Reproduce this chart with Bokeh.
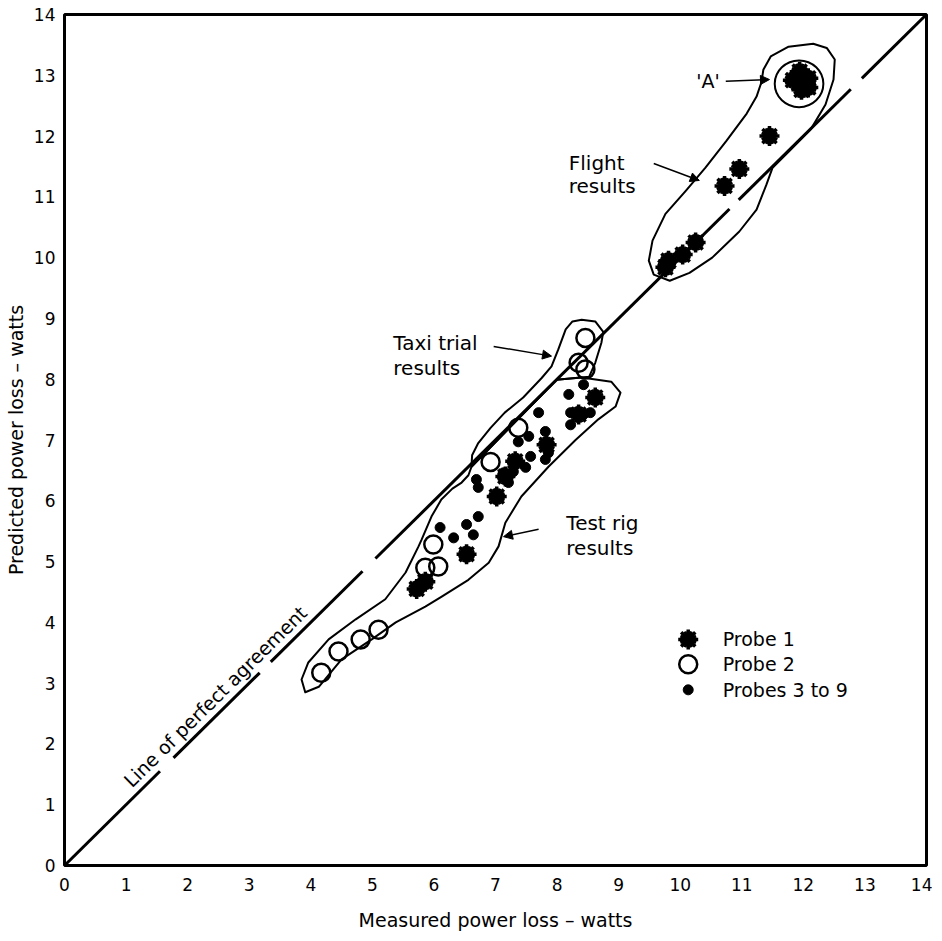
import math
from bokeh.plotting import figure
from bokeh.models import Range1d, FixedTicker, Arrow, NormalHead
from bokeh.core.properties import value
from bokeh.embed import file_html
from bokeh.resources import INLINE

# ---------------- data ----------------
axis_ticks = list(range(0, 15))

# Probe 1 (asterisks)
probe1_measured = [11.94, 11.83, 12.08, 11.97, 12.08,
                   11.45, 10.96, 10.72, 10.25, 10.04, 9.81, 9.76,
                   8.62, 8.35, 7.83, 7.32, 7.16, 7.02, 6.53, 5.86, 5.72]
probe1_predicted = [13.06, 12.92, 12.95, 12.76, 12.80,
                    12.00, 11.46, 11.18, 10.25, 10.05, 9.95, 9.84,
                    7.70, 7.42, 6.92, 6.65, 6.40, 6.07, 5.12, 4.67, 4.55]

# Probe 2 (open circles)
probe2_measured = [8.46, 8.35, 8.46, 7.37, 6.92, 5.99, 5.86, 6.07, 5.10, 4.81, 4.45, 4.17]
probe2_predicted = [8.68, 8.27, 8.16, 7.20, 6.64, 5.28, 4.90, 4.92, 3.88, 3.72, 3.52, 3.17]

# Probes 3 to 9 (dots)
probe39_measured = [8.19, 8.43, 8.22, 8.22, 8.43, 8.54, 7.70, 7.81, 7.54, 7.37, 7.86, 7.81,
                    7.57, 7.29, 7.13, 7.49, 6.69, 6.72, 7.21, 6.72, 6.53, 6.64, 6.32, 6.10]
probe39_predicted = [7.75, 7.91, 7.45, 7.25, 7.42, 7.45, 7.45, 7.14, 7.06, 6.97, 6.79, 6.68,
                     6.73, 6.48, 6.46, 6.55, 6.35, 6.22, 6.30, 5.74, 5.61, 5.44, 5.39, 5.56]

# Line of perfect agreement (drawn broken)
agreement_from = [0.0, 1.77, 3.35, 5.05, 10.95, 12.95]
agreement_to = [1.55, 3.17, 4.84, 10.80, 12.77, 14.0]

# Hand-drawn result envelopes (data units)
flight_env_x = [12.16, 11.76, 11.47, 11.35, 11.32, 11.24, 11.08, 10.75, 10.41, 10.09, 9.76, 9.55,
                9.49, 9.57, 9.83, 10.15, 10.52, 10.96, 11.24, 11.40, 11.50, 11.76, 12.12, 12.36,
                12.49, 12.51, 12.38]
flight_env_y = [13.52, 13.47, 13.31, 13.09, 12.89, 12.65, 12.37, 11.92, 11.48, 11.10, 10.72, 10.28,
                9.95, 9.72, 9.62, 9.75, 10.00, 10.43, 10.79, 11.20, 11.48, 11.74, 12.11, 12.52,
                12.93, 13.26, 13.45]
group_a_x, group_a_y, group_a_w, group_a_h = [11.93], [12.86], [0.79], [0.77]

taxi_env_x = [8.40, 8.62, 8.75, 8.72, 8.62, 8.52, 7.99, 6.61, 6.62, 6.72, 6.92, 7.15, 7.45,
              7.75, 7.91, 8.02, 8.14, 8.25]
taxi_env_y = [8.98, 8.95, 8.78, 8.60, 8.27, 8.04, 7.99, 6.56, 6.75, 6.95, 7.20, 7.45, 7.70,
              8.02, 8.21, 8.49, 8.82, 8.95]

rig_env_x = [7.99, 8.40, 8.88, 9.03, 8.95, 8.67, 8.30, 7.86, 7.42, 7.16, 7.05, 6.89, 6.56, 6.12,
             5.86, 5.38, 4.99, 4.50, 4.13, 3.91, 3.85, 3.96, 4.29, 4.73, 5.21, 5.54, 5.75, 5.80,
             5.96, 6.12, 6.30, 6.45, 6.56, 6.61]
rig_env_y = [7.99, 8.03, 7.96, 7.78, 7.55, 7.34, 7.00, 6.56, 6.07, 5.64, 5.25, 4.98, 4.70, 4.42,
             4.26, 4.00, 3.72, 3.39, 2.94, 2.85, 3.06, 3.34, 3.72, 4.05, 4.38, 4.82, 5.25, 5.36,
             5.74, 6.02, 6.20, 6.30, 6.42, 6.56]

# ---------------- figure ----------------
FW, FH = 862, 851
BL, BR, BT, BB = 64, 6, 14, 70
FONT = "DejaVu Sans"

p = figure(width=BL + FW + BR, height=BT + FH + BB,
           x_range=Range1d(0, 14), y_range=Range1d(0, 14),
           output_backend="svg", toolbar_location=None,
           min_border_left=BL, min_border_right=BR, min_border_top=BT, min_border_bottom=BB,
           background_fill_color="white", border_fill_color="white")

p.grid.visible = False
p.outline_line_color = "black"
p.outline_line_width = 3

for ax in (p.xaxis[0], p.yaxis[0]):
    ax.ticker = FixedTicker(ticks=axis_ticks)
    ax.axis_line_color = None
    ax.major_tick_line_color = None
    ax.minor_tick_line_color = None
    ax.major_tick_out = 0
    ax.major_tick_in = 0
    ax.major_label_text_font = FONT
    ax.major_label_text_font_size = "17px"
    ax.major_label_text_color = "black"
    ax.axis_label_text_font = FONT
    ax.axis_label_text_font_size = "19px"
    ax.axis_label_text_font_style = "normal"
    ax.axis_label_text_color = "black"

p.xaxis.axis_label = "Measured power loss \u2013 watts"
p.yaxis.axis_label = "Predicted power loss \u2013 watts"
p.xaxis.major_label_standoff = 12
p.xaxis.axis_label_standoff = 15
p.yaxis.major_label_standoff = 9
p.yaxis.axis_label_standoff = 4

# line of perfect agreement
p.multi_line(xs=[[a, b] for a, b in zip(agreement_from, agreement_to)],
             ys=[[a, b] for a, b in zip(agreement_from, agreement_to)],
             line_color="black", line_width=3)

# envelopes
for ex, ey in ((flight_env_x, flight_env_y), (taxi_env_x, taxi_env_y), (rig_env_x, rig_env_y)):
    p.patch(ex, ey, fill_color=None, line_color="black", line_width=2, line_join="round")
p.ellipse(x=group_a_x, y=group_a_y, width=group_a_w, height=group_a_h,
          fill_color=None, line_color="black", line_width=2)

# markers
def probe1(xs, ys):
    p.scatter(xs, ys, marker="asterisk", size=20, line_width=3.5, line_color="black")
    p.scatter(xs, ys, marker="asterisk", size=17, angle=math.pi / 8, line_width=3, line_color="black")
    p.scatter(xs, ys, marker="circle", size=10, fill_color="black", line_color="black")

def probe2(xs, ys):
    p.scatter(xs, ys, marker="circle", size=18, fill_color=None, line_color="black", line_width=2.5)

def probe39(xs, ys):
    p.scatter(xs, ys, marker="circle", size=10, fill_color="black", line_color="black")

probe1(probe1_measured, probe1_predicted)
probe2(probe2_measured, probe2_predicted)
probe39(probe39_measured, probe39_predicted)

# legend (drawn by hand to keep marker sizes)
lx, ltx = 10.13, 10.69
ly = [3.72, 3.31, 2.89]
probe1([lx], [ly[0]])
probe2([lx], [ly[1]])
probe39([lx], [ly[2]])
p.text(x=[ltx] * 3, y=ly, text=["Probe 1", "Probe 2", "Probes 3 to 9"],
       text_font=value(FONT), text_font_size=value("19px"),
       text_align="left", text_baseline="middle", text_color="black")

# annotations
p.text(x=[8.19, 8.19, 5.34, 5.34, 8.15, 8.15],
       y=[11.55, 11.18, 8.60, 8.19, 5.64, 5.23],
       text=["Flight", "results", "Taxi trial", "results", "Test rig", "results"],
       text_font=value(FONT), text_font_size=value("20px"),
       text_align="left", text_baseline="middle", text_color="black")
p.text(x=[10.64], y=[12.91], text=["'A'"],
       text_font=value(FONT), text_font_size=value("19px"),
       text_align="right", text_baseline="middle", text_color="black")

angle = math.atan2(FH / 14.0, FW / 14.0)
p.text(x=[2.45], y=[2.78], text=["Line of perfect agreement"], angle=angle,
       text_font=value(FONT), text_font_size=value("19px"),
       text_align="center", text_baseline="middle", text_color="black")

for (xs, ys, xe, ye) in [(10.74, 12.90, 11.45, 12.93),
                         (9.57, 11.55, 10.31, 11.27),
                         (6.97, 8.54, 7.91, 8.38),
                         (7.70, 5.53, 7.13, 5.41)]:
    p.add_layout(Arrow(end=NormalHead(size=9, fill_color="black", line_color="black"),
                       x_start=xs, y_start=ys, x_end=xe, y_end=ye,
                       line_color="black", line_width=1.5))

open("out.html", "w").write(file_html(p, INLINE))
